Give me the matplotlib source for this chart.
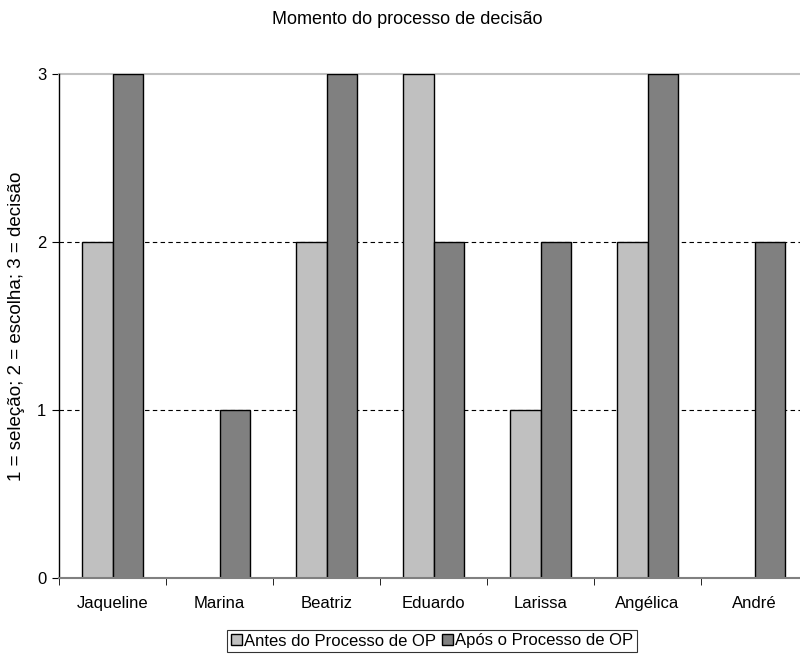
import matplotlib.pyplot as plt
import numpy as np

plt.rcParams['font.family'] = ['Liberation Sans', 'DejaVu Sans']

# Respondents and decision moment (1 = seleção, 2 = escolha, 3 = decisão)
names = ['Jaqueline', 'Marina', 'Beatriz', 'Eduardo', 'Larissa', 'Angélica', 'André']
antes = [2, 0, 2, 3, 1, 2, 0]
apos = [3, 1, 3, 2, 2, 3, 2]
series_labels = ['Antes do Processo de OP', 'Após o Processo de OP']

fig = plt.figure(figsize=(8, 6.56), dpi=100)
ax = fig.add_axes([59 / 800, 1 - 578 / 656, 749 / 800, 504 / 656])

x = np.arange(len(names))
w = 0.285
ax.bar(x - w / 2, antes, w, color='#c0c0c0', edgecolor='black', linewidth=1.0,
       label=series_labels[0], zorder=3)
ax.bar(x + w / 2, apos, w, color='#808080', edgecolor='black', linewidth=1.0,
       label=series_labels[1], zorder=3)

ax.set_xlim(-0.5, len(names) - 0.5)
ax.set_ylim(0, 3)

# dashed gridlines and a light top border
for yv in [1, 2]:
    ax.axhline(yv, color='black', linestyle=(0, (4, 3)), linewidth=0.8, zorder=1)
ax.axhline(3, color='#c0c0c0', linewidth=1.5, zorder=2, clip_on=False)

for side in ['top', 'right']:
    ax.spines[side].set_visible(False)
ax.spines['left'].set_linewidth(1.0)
ax.spines['bottom'].set_color('#808080')
ax.spines['bottom'].set_linewidth(1.5)
ax.spines['bottom'].set_zorder(4)

ax.set_yticks([0, 1, 2, 3])
ax.set_xticks(x)
ax.set_xticklabels(names)
ax.set_xticks(np.arange(len(names) + 1) - 0.5, minor=True)
ax.tick_params(axis='x', which='major', length=0, pad=13, labelsize=12)
ax.tick_params(axis='x', which='minor', length=5, direction='out', color='black')
ax.tick_params(axis='y', length=5, direction='out', labelsize=12, pad=4)

ax.set_ylabel('1 = seleção; 2 = escolha; 3 = decisão', fontsize=13.5, labelpad=0)
ax.yaxis.set_label_coords(-34 / 749, 0.5)
fig.text(407 / 800, 1 - 19 / 656, 'Momento do processo de decisão', ha='center', va='center',
         fontsize=13)

leg = fig.legend(loc='center', bbox_to_anchor=(432 / 800, 1 - 641 / 656), ncol=2,
                 frameon=True, fancybox=False, edgecolor='black', fontsize=12,
                 handlelength=0.65, handleheight=0.65, handletextpad=0.12,
                 columnspacing=0.4, borderpad=0.2, borderaxespad=0)
leg.get_frame().set_linewidth(0.8)

fig.savefig('out.png', dpi=100)
